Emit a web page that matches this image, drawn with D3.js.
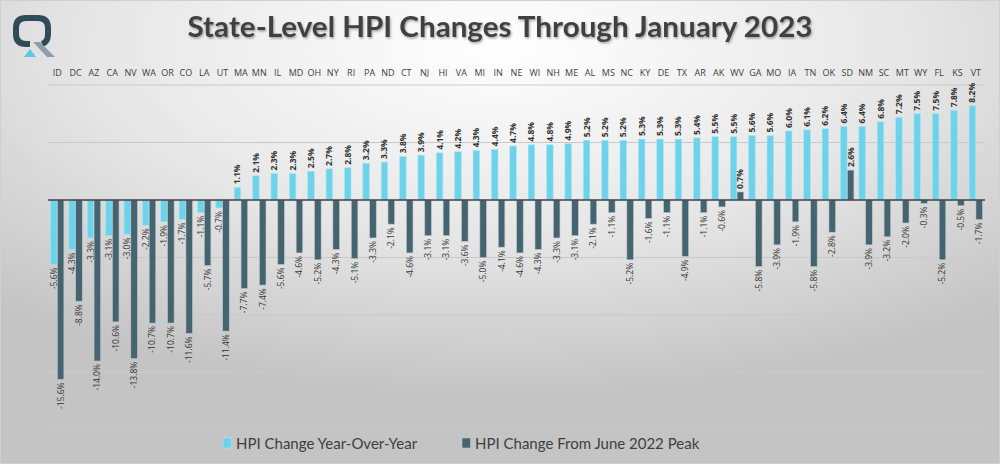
<!DOCTYPE html>
<html>
<head>
<meta charset="utf-8">
<script src="https://cdn.jsdelivr.net/npm/d3@7"></script>
<style>
  body { margin: 0; padding: 0; overflow: hidden; }
  svg { display: block; }
</style>
</head>
<body>
<script>
// 1. 데이터
var states = ["ID","DC","AZ","CA","NV","WA","OR","CO","LA","UT",
              "MA","MN","IL","MD","OH","NY","RI","PA","ND","CT",
              "NJ","HI","VA","MI","IN","NE","WI","NH","ME","AL",
              "MS","NC","KY","DE","TX","AR","AK","WV","GA","MO",
              "IA","TN","OK","SD","NM","SC","MT","WY","FL","KS","VT"];

var yoy = [-5.6,-4.3,-3.3,-3.1,-3.0,-2.2,-1.9,-1.7,-1.1,-0.7,
           1.1,2.1,2.3,2.3,2.5,2.7,2.8,3.2,3.3,3.8,
           3.9,4.1,4.2,4.3,4.4,4.7,4.8,4.8,4.9,5.2,
           5.2,5.2,5.3,5.3,5.3,5.4,5.5,5.5,5.6,5.6,
           6.0,6.1,6.2,6.4,6.4,6.8,7.2,7.5,7.5,7.8,8.2];

var fromPeak = [-15.6,-8.8,-14.0,-10.6,-13.8,-10.7,-10.7,-11.6,-5.7,-11.4,
                -7.7,-7.4,-5.6,-4.6,-5.2,-4.3,-5.1,-3.3,-2.1,-4.6,
                -3.1,-3.1,-3.6,-5.0,-4.1,-4.6,-4.3,-3.3,-3.1,-2.1,
                -1.1,-5.2,-1.6,-1.1,-4.9,-1.1,-0.6,0.7,-5.8,-3.9,
                -1.9,-5.8,-2.8,2.6,-3.9,-3.2,-2.0,-0.3,-5.2,-0.5,-1.7];

var seriesNames = ["HPI Change Year-Over-Year", "HPI Change From June 2022 Peak"];
var gridTicks = [10, 5, 0, -5, -10, -15, -20];

var W = 1000, H = 464;
var lightBlue = "#6dd2ea", darkSlate = "#46646f";
var colors = [lightBlue, darkSlate];

var svg = d3.select("body").append("svg").attr("width", W).attr("height", H);

// 배경 그라데이션
var defs = svg.append("defs");
var bg = defs.append("radialGradient").attr("id", "bg")
    .attr("cx", "0.5").attr("cy", "0.1").attr("r", "0.75");
bg.append("stop").attr("offset", "0%").attr("stop-color", "#ffffff");
bg.append("stop").attr("offset", "55%").attr("stop-color", "#e6e6e6");
bg.append("stop").attr("offset", "100%").attr("stop-color", "#c4c4c4");

var shadow = defs.append("filter").attr("id", "shadow").attr("x", "-5%").attr("y", "-20%").attr("width", "110%").attr("height", "150%");
shadow.append("feDropShadow").attr("dx", 1).attr("dy", 1.5).attr("stdDeviation", 1).attr("flood-color", "#000").attr("flood-opacity", 0.35);

svg.append("rect").attr("width", W).attr("height", H).attr("fill", "url(#bg)");
svg.append("rect").attr("x", 0.5).attr("y", 0.5).attr("width", W - 1).attr("height", H - 1)
    .attr("fill", "none").attr("stroke", "#d0d0d0");

// 로고 (Q 모양)
var logo = svg.append("g");
logo.append("path")
    .attr("d", "M30,44 L26,44 Q16,44 16,34 L16,28 Q16,18 26,18 L38,18 Q48,18 48,28 L48,34 Q48,42 42,44")
    .attr("fill", "none").attr("stroke", "#2f4b57").attr("stroke-width", 6);
logo.append("path").attr("d", "M33,42 L40,42 L55,57 L47,57 Z").attr("fill", "#8d9ea6");
logo.append("path").attr("d", "M24,57 L30,49 L36,57 Z").attr("fill", "#5cc6e8");

// 제목
svg.append("text")
    .attr("x", 500).attr("y", 37)
    .attr("text-anchor", "middle")
    .attr("font-family", "Lato, 'Open Sans', sans-serif")
    .attr("font-weight", "bold")
    .attr("font-size", 28)
    .attr("fill", "#404040")
    .attr("filter", "url(#shadow)")
    .attr("textLength", 625).attr("lengthAdjust", "spacingAndGlyphs")
    .text("State-Level HPI Changes Through January 2023");

// 2. 스케일
var x0 = d3.scaleBand().domain(states).range([48, 985]).paddingInner(0.24).paddingOuter(0.12);
var x1 = d3.scaleBand().domain([0, 1]).range([0, x0.bandwidth()]).padding(0.04);
var y = d3.scaleLinear().domain([-20, 10]).range([430, 85]);

// 격자선
svg.selectAll("line.grid")
    .data(gridTicks.filter(function(d){ return d != 0; }))
    .enter().append("line")
    .attr("class", "grid")
    .attr("x1", 48).attr("x2", 985)
    .attr("y1", function(d){ return y(d); })
    .attr("y2", function(d){ return y(d); })
    .attr("stroke", "#c9c9c9").attr("stroke-width", 1);

// 주 이름 (위쪽 축)
var topAxis = d3.axisTop(x0).tickSize(0).tickPadding(0);
var axisG = svg.append("g").attr("transform", "translate(0,76)").call(topAxis)
    .attr("fill", "#404040");
axisG.select(".domain").remove();
axisG.selectAll("text")
    .attr("font-family", "'Open Sans', sans-serif")
    .attr("font-size", 9)
    .attr("fill", "#404040");

// 3. 막대
var rows = states.map(function(s, i){ return { state: s, vals: [yoy[i], fromPeak[i]] }; });

var groups = svg.selectAll("g.state")
    .data(rows)
    .enter().append("g")
    .attr("class", "state")
    .attr("transform", function(d){ return "translate(" + x0(d.state) + ",0)"; });

var cells = groups.selectAll("g.cell")
    .data(function(d){ return d.vals.map(function(v, k){ return { k: k, v: v }; }); })
    .enter().append("g").attr("class", "cell");

cells.append("rect")
    .attr("x", function(d){ return x1(d.k); })
    .attr("width", x1.bandwidth())
    .attr("y", function(d){ return y(Math.max(0, d.v)); })
    .attr("height", function(d){ return Math.abs(y(d.v) - y(0)); })
    .attr("fill", function(d){ return colors[d.k]; })
    .attr("stroke", function(d){ return d.k == 0 ? "#a9e6f4" : "#b9c6cc"; })
    .attr("stroke-width", 0.6);

cells.append("text")
    .attr("transform", function(d){
        var cx = x1(d.k) + x1.bandwidth() / 2 + 3;
        var cy = d.v >= 0 ? y(d.v) - 3 : y(d.v) + 3;
        return "translate(" + cx + "," + cy + ") rotate(-90)";
    })
    .attr("text-anchor", function(d){ return d.v >= 0 ? "start" : "end"; })
    .attr("font-family", "'Open Sans', sans-serif")
    .attr("font-size", 8.5)
    .attr("font-weight", function(d){ return d.v >= 0 ? "bold" : "normal"; })
    .attr("fill", "#333333")
    .text(function(d){ return d.v.toFixed(1) + "%"; });

// 0 기준선
svg.append("line")
    .attr("x1", 48).attr("x2", 985)
    .attr("y1", y(0)).attr("y2", y(0))
    .attr("stroke", "#404040").attr("stroke-width", 1.5);

// 4. 범례
var legendX = [223, 462];
var legend = svg.selectAll("g.legend")
    .data(seriesNames)
    .enter().append("g")
    .attr("class", "legend")
    .attr("transform", function(d, i){ return "translate(" + legendX[i] + ",437)"; });

legend.append("rect")
    .attr("width", 8.5).attr("height", 10).attr("y", 1)
    .attr("fill", function(d, i){ return colors[i]; })
    .attr("stroke", function(d, i){ return i == 0 ? "#a9e6f4" : "#b9c6cc"; })
    .attr("stroke-width", 0.6);

legend.append("text")
    .attr("x", 13).attr("y", 11.5)
    .attr("font-family", "Lato, 'Open Sans', sans-serif")
    .attr("font-size", 15)
    .attr("fill", "#404040")
    .text(function(d){ return d; });
</script>
</body>
</html>
